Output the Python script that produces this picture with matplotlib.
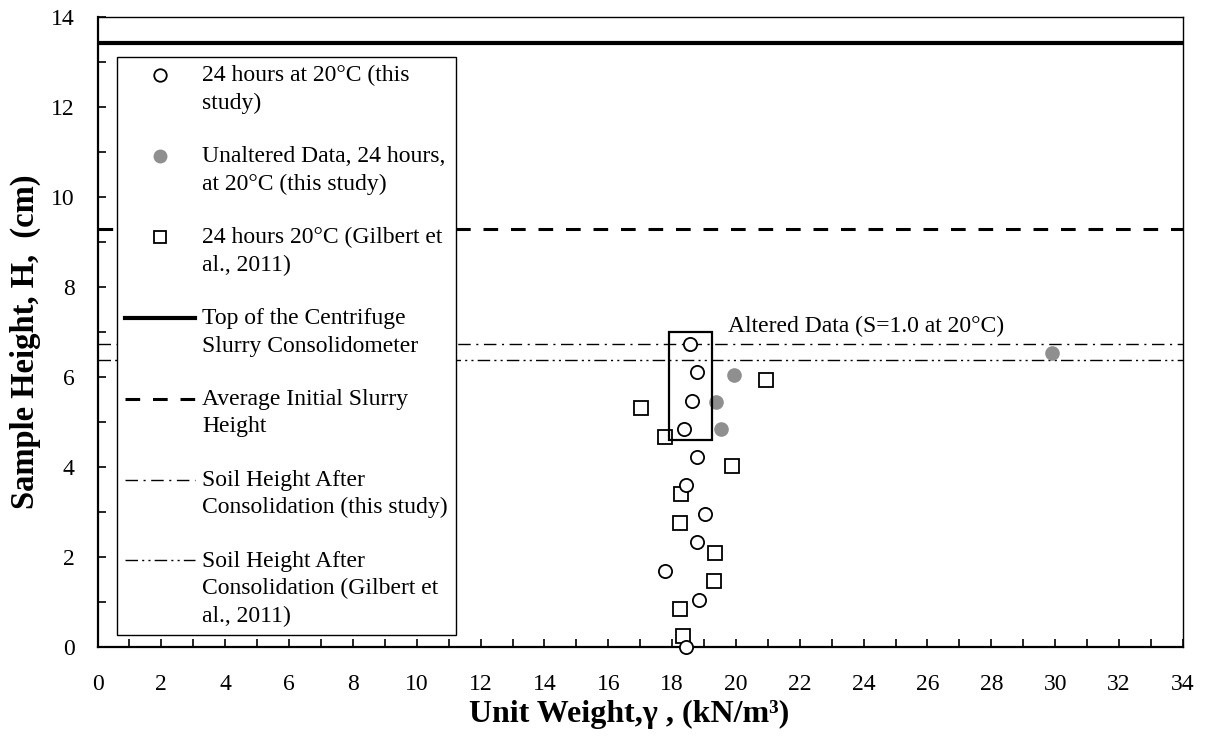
import numpy as np
import matplotlib
matplotlib.use('Agg')
import matplotlib.pyplot as plt
from matplotlib.lines import Line2D
from matplotlib.patches import Rectangle
from matplotlib.transforms import Affine2D
from matplotlib.legend_handler import HandlerLine2D

plt.rcParams['font.family'] = ['Liberation Serif', 'DejaVu Serif']

# data
circ_x = [18.56, 18.77, 18.61, 18.37, 18.79, 18.43, 19.03, 18.79, 17.77, 18.85, 18.43]
circ_y = [6.73, 6.10, 5.47, 4.84, 4.23, 3.60, 2.96, 2.33, 1.70, 1.04, 0.0]

gray_x = [19.95, 19.37, 19.52, 29.91]
gray_y = [6.04, 5.44, 4.84, 6.53]

sq_x = [20.93, 17.01, 17.78, 19.89, 18.29, 18.24, 19.34, 19.32, 18.24, 18.34]
sq_y = [5.93, 5.30, 4.67, 4.03, 3.39, 2.75, 2.10, 1.47, 0.84, 0.24]

top_h = 13.43        # top of consolidometer
slurry_h = 9.29      # average initial slurry height
soil_h_this = 6.73   # after consolidation, this study
soil_h_gil = 6.38    # after consolidation, Gilbert et al.

box_x = (17.9, 19.25)
box_y = (4.6, 7.0)

labels = ['24 hours at 20°C (this\nstudy)',
          'Unaltered Data, 24 hours,\nat 20°C (this study)',
          '24 hours 20°C (Gilbert et\nal., 2011)',
          'Top of the Centrifuge\nSlurry Consolidometer',
          'Average Initial Slurry\nHeight',
          'Soil Height After\nConsolidation (this study)',
          'Soil Height After\nConsolidation (Gilbert et\nal., 2011)']

FS = 17

fig = plt.figure(figsize=(12.07, 7.38), dpi=100)
ax = fig.add_axes([0.0808, 0.1233, 0.8992, 0.8537])

ax.axhline(top_h, color='black', lw=3.0, zorder=2)
ax.axhline(slurry_h, color='black', lw=2.2, ls=(0, (4.8, 4.2)), zorder=2)
ax.axhline(soil_h_this, color='black', lw=1.0, ls=(0, (9, 4, 1.5, 4)), zorder=2)
ax.axhline(soil_h_gil, color='black', lw=1.0, ls=(0, (9, 3, 1.5, 3, 1.5, 3)), zorder=2)

ax.plot(circ_x, circ_y, 'o', mfc='white', mec='black', ms=9.5, mew=1.3, clip_on=False, zorder=4)
ax.plot(gray_x, gray_y, 'o', mfc='#8f8f8f', mec='#8f8f8f', ms=9.5, mew=1.0, zorder=4)
ax.plot(sq_x, sq_y, 's', mfc='white', mec='black', ms=9.5, mew=1.3, clip_on=False, zorder=3)

ax.add_patch(Rectangle((box_x[0], box_y[0]), box_x[1] - box_x[0], box_y[1] - box_y[0],
                       fill=False, ec='black', lw=1.6, zorder=5))
ax.text(19.75, 7.13, 'Altered Data (S=1.0 at 20°C)', fontsize=FS, va='center', ha='left')

ax.set_xlim(0, 34)
ax.set_ylim(0, 14)
ax.set_xticks(np.arange(0, 35, 2))
ax.set_xticks(np.arange(1, 34, 2), minor=True)
ax.set_yticks(np.arange(0, 15, 2))
ax.set_yticks(np.arange(1, 14, 2), minor=True)
ax.tick_params(which='both', direction='in', length=6, width=1.2, labelsize=FS)
ax.tick_params(axis='x', which='both', pad=19.5)
ax.tick_params(axis='y', which='both', pad=16.5)
ax.tick_params(axis='both', which='both', top=False, right=False)
for s in ['left', 'bottom']:
    ax.spines[s].set_linewidth(1.6)
for s in ['top', 'right']:
    ax.spines[s].set_linewidth(1.0)

ax.set_xlabel('Unit Weight,γ , (kN/m³)', fontsize=23, fontweight='bold')
ax.xaxis.set_label_coords(0.4896, -0.084)
ax.set_ylabel('Sample Height, H,  (cm)', fontsize=23.5, fontweight='bold')
ax.yaxis.set_label_coords(-0.052, 0.485)


class FirstLineHandler(HandlerLine2D):
    # put the legend key level with the first line of a wrapped label
    def __init__(self, nlines, **kw):
        super().__init__(**kw)
        self.nlines = nlines

    def create_artists(self, legend, orig_handle, xdescent, ydescent, width, height, fontsize, trans):
        dy = (self.nlines - 1) / 2 * 1.19 * fontsize
        trans = Affine2D().translate(0, dy) + trans
        return super().create_artists(legend, orig_handle, xdescent, ydescent, width, height, fontsize, trans)


handles = [
    Line2D([], [], ls='none', marker='o', mfc='white', mec='black', ms=9, mew=1.3),
    Line2D([], [], ls='none', marker='o', mfc='#8f8f8f', mec='#8f8f8f', ms=9),
    Line2D([], [], ls='none', marker='s', mfc='white', mec='black', ms=9, mew=1.3),
    Line2D([], [], color='black', lw=3.0),
    Line2D([], [], color='black', lw=2.2, ls=(0, (4.8, 4.2))),
    Line2D([], [], color='black', lw=1.0, ls=(0, (9, 4, 1.5, 4))),
    Line2D([], [], color='black', lw=1.0, ls=(0, (9, 3, 1.5, 3, 1.5, 3))),
]
hmap = {h: FirstLineHandler(lab.count('\n') + 1) for h, lab in zip(handles, labels)}

leg = ax.legend(handles, labels, handler_map=hmap, loc='upper left',
                bbox_to_anchor=(0.018, 0.937), fontsize=FS, frameon=True,
                fancybox=False, edgecolor='black', framealpha=1.0,
                borderpad=0.35, labelspacing=1.37, handlelength=2.95,
                handletextpad=0.3, borderaxespad=0, numpoints=1)
for t in leg.get_texts():
    t.set_linespacing(1.4)
leg.get_frame().set_linewidth(1.0)
leg.set_zorder(10)

plt.savefig('out.png', dpi=100)
